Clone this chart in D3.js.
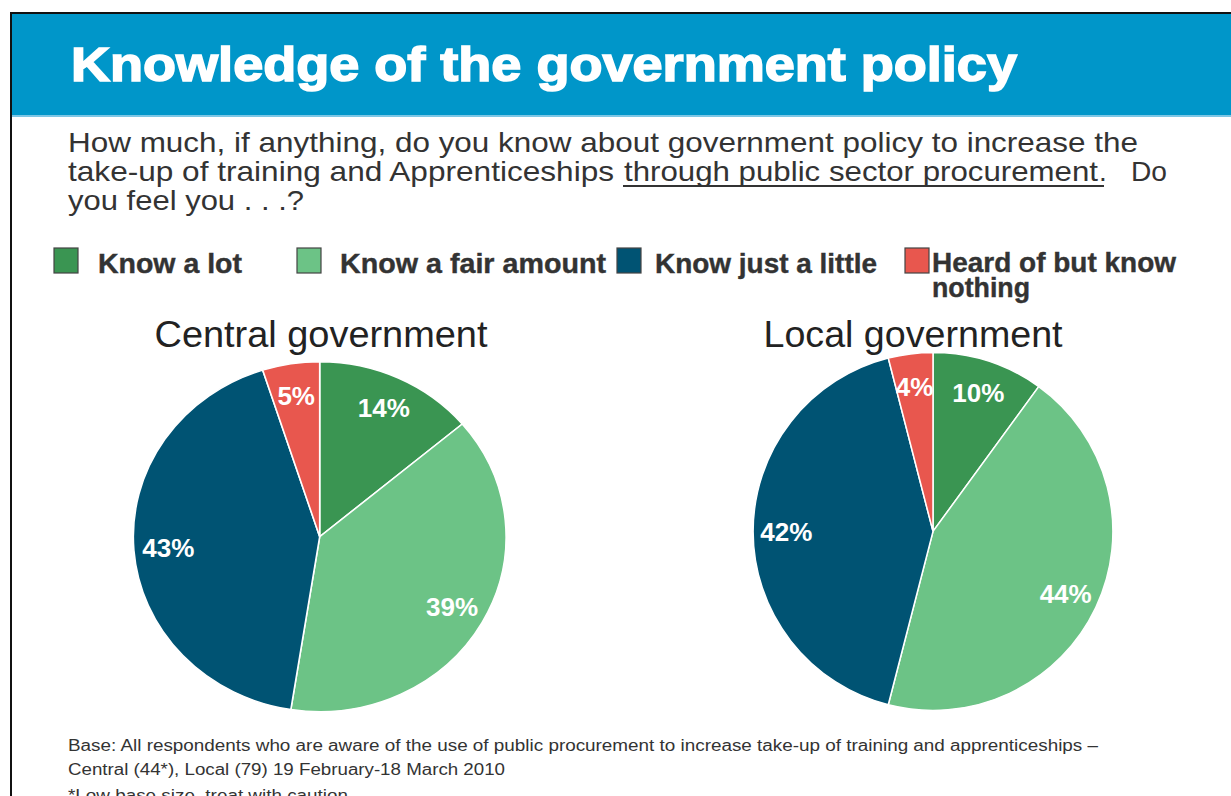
<!DOCTYPE html>
<html>
<head>
<meta charset="utf-8">
<script src="https://cdn.jsdelivr.net/npm/d3@7"></script>
<style>
  body { margin: 0; background: #fff; }
  text { font-family: "Liberation Sans", Arial, sans-serif; }
</style>
</head>
<body>
<svg id="drawing_region"></svg>
<script>
// data
const categories = ["Know a lot", "Know a fair amount", "Know just a little", "Heard of but know nothing"];
const centralValues = [14, 39, 43, 5];
const localValues = [10, 44, 42, 4];
const pieTitles = ["Central government", "Local government"];
const colors = ["#3a9552", "#6cc386", "#005373", "#e8574e"];

const W = 1231, H = 796;
const svg = d3.select("#drawing_region")
    .attr("width", W)
    .attr("height", H);

// header band + frame
svg.append("rect").attr("x", 11).attr("y", 13).attr("width", W - 11).attr("height", 102).attr("fill", "#0096c9");
svg.append("rect").attr("x", 11).attr("y", 115).attr("width", W - 11).attr("height", 2).attr("fill", "#7cc6e5");
svg.append("line").attr("x1", 10).attr("y1", 13).attr("x2", W).attr("y2", 13)
    .attr("stroke", "#111").attr("stroke-width", 2);
svg.append("line").attr("x1", 11).attr("y1", 12).attr("x2", 11).attr("y2", H)
    .attr("stroke", "#111").attr("stroke-width", 2);

// helper for text with a fixed width
function txt(x, y, s, size, len, opts) {
    opts = opts || {};
    const t = svg.append("text")
        .attr("x", x).attr("y", y)
        .attr("font-size", size + "px")
        .attr("font-weight", opts.bold ? "bold" : "normal")
        .attr("fill", opts.fill || "#333")
        .text(s);
    if (len) t.attr("textLength", len).attr("lengthAdjust", "spacingAndGlyphs");
    if (opts.anchor) t.attr("text-anchor", opts.anchor);
    if (opts.stroke) t.attr("stroke", opts.fill || "#333").attr("stroke-width", opts.stroke);
    return t;
}

txt(71, 81, "Knowledge of the government policy", 48, 946, {bold: true, fill: "#fff", stroke: 1.6});

// question
txt(68, 152, "How much, if anything, do you know about government policy to increase the", 28, 1070);
txt(68, 181, "take-up of training and Apprenticeships", 28, 546);
txt(624, 181, "through public sector procurement", 28, 474);
txt(1099, 181, ".", 28, null);
txt(1131, 181, "Do", 28, 36);
txt(68, 210, "you feel you . . .?", 28, 236);
svg.append("line").attr("x1", 623).attr("x2", 1104).attr("y1", 186).attr("y2", 186)
    .attr("stroke", "#333").attr("stroke-width", 2);

// legend
const legendX = [54, 297, 617, 905];
const legendTextX = [98, 340, 655, 932];
const legendLen = [144, 266, 222, 244];
categories.forEach((c, i) => {
    svg.append("rect")
        .attr("x", legendX[i]).attr("y", 248)
        .attr("width", 24).attr("height", 25)
        .attr("fill", colors[i])
        .attr("stroke", "#444").attr("stroke-width", 1.2);
    if (i < 3) {
        txt(legendTextX[i], 273, c, 28, legendLen[i], {bold: true, stroke: 0.4});
    } else {
        txt(legendTextX[i], 272, "Heard of but know", 28, legendLen[i], {bold: true, stroke: 0.4});
        txt(legendTextX[i], 297, "nothing", 28, 98, {bold: true, stroke: 0.4});
    }
});

// pies
const pies = [
    {values: centralValues, title: pieTitles[0], cx: 319.7, cy: 536.7, r: 175, sx: 1.065, titleX: 321, titleLen: 333},
    {values: localValues, title: pieTitles[1], cx: 933, cy: 531.4, r: 179, sx: 1.005, titleX: 913, titleLen: 299}
];

const pie = d3.pie().sort(null).value(d => d);

pies.forEach(p => {
    txt(p.titleX, 347, p.title, 36, p.titleLen, {anchor: "middle", fill: "#222"});

    const arcs = pie(p.values);
    const arc = d3.arc().innerRadius(0).outerRadius(p.r);
    const labelArc = d3.arc().innerRadius(p.r * 0.815).outerRadius(p.r * 0.815);

    const g = svg.append("g")
        .attr("transform", `translate(${p.cx},${p.cy}) scale(${p.sx},1)`);

    g.selectAll("path")
        .data(arcs)
        .enter()
        .append("path")
        .attr("d", arc)
        .attr("fill", (d, i) => colors[i])
        .attr("stroke", "#fff")
        .attr("stroke-width", 1.5);

    svg.append("g").selectAll("text")
        .data(arcs)
        .enter()
        .append("text")
        .attr("x", d => p.cx + labelArc.centroid(d)[0] * p.sx)
        .attr("y", d => p.cy + labelArc.centroid(d)[1])
        .attr("dy", "0.36em")
        .attr("text-anchor", "middle")
        .attr("font-size", "26px")
        .attr("font-weight", "bold")
        .attr("fill", "#fff")
        .text(d => d.data + "%");
});

// footnote
txt(68, 751, "Base: All respondents who are aware of the use of public procurement to increase take-up of training and apprenticeships \u2013", 16, 1030);
txt(68, 775, "Central (44*), Local (79) 19 February-18 March 2010", 16, 437);
txt(68, 801, "*Low base size, treat with caution", 16, 280);
</script>
</body>
</html>
